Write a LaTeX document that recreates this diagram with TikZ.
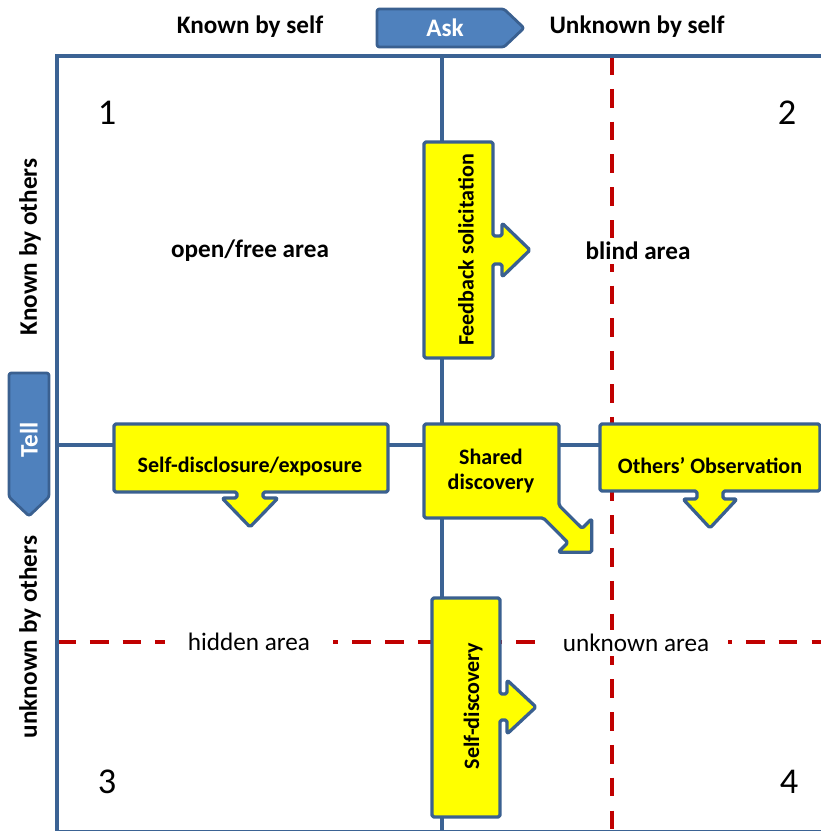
\documentclass[tikz,border=0pt]{standalone}
\usepackage{fontspec}
\setmainfont{Carlito}
\usetikzlibrary{positioning,arrows.meta,calc}
\definecolor{gridblue}{HTML}{3B6394}
\definecolor{tagblue}{HTML}{4F81BD}
\definecolor{tagedge}{HTML}{3A6090}
\definecolor{areared}{HTML}{C00000}
\definecolor{callyellow}{HTML}{FFFF00}

\begin{document}
\begin{tikzpicture}[x=0.03cm,y=-0.03cm,
    gridline/.style={gridblue, line width=3pt},
    redline/.style={areared, line width=3.2pt, dash pattern=on 16pt off 12pt},
    callout/.style={draw=tagedge, fill=callyellow, line width=2.8pt, rounded corners=1.5pt, line join=round},
    bluetag/.style={draw=tagedge, fill=tagblue, line width=2.4pt, rounded corners=2pt, line join=round},
    hdr/.style={font=\bfseries\fontsize{21.5}{23}\selectfont},
    area/.style={fill=white, inner xsep=16pt, font=\fontsize{21.5}{23}\selectfont},
    calltext/.style={font=\bfseries\fontsize{18.8}{22}\selectfont, align=center},
    num/.style={font=\fontsize{31}{33}\selectfont}]
    \useasboundingbox (0,0) rectangle (821,831);
    \fill[white] (0,0) rectangle (821,831);

    % frame and quadrants
    \coordinate (tl) at (57,56);   \coordinate (tr) at (821,56);
    \coordinate (bl) at (57,831);  \coordinate (mt) at (442,56);
    \coordinate (mb) at (442,831); \coordinate (ml) at (57,445);
    \coordinate (mr) at (821,445);
    \coordinate (rt) at (612,56);  \coordinate (rb) at (612,831);
    \coordinate (hl) at (57,642);  \coordinate (hr) at (821,642);
    \draw[redline] (rt) -- (rb);
    \draw[redline] (hl) -- (hr);
    \draw[gridblue, line width=0.6pt] (57,830) -- (821,830);
    \draw[gridline] (tr) -- (tl) -- (bl);
    \draw[gridline] (mt) -- (mb);
    \draw[gridline] (ml) -- (mr);

    % headers
    \node[hdr] (kself) at (250,27) {Known by self};
    \node[hdr] (uself) at (637,27) {Unknown by self};
    \node[hdr, rotate=90] (kothers) at (30,247) {Known by others};
    \node[hdr, rotate=90] (uothers) at (30,637) {unknown by others};
    \draw[bluetag] (377,9) -- (504,9) -- (524,28) -- (504,47) -- (377,47) -- cycle;
    \node[hdr, white] (ask) at (445,28) {Ask};
    \draw[bluetag] (9,373) -- (49,373) -- (49,497) -- (29,516) -- (9,497) -- cycle;
    \node[hdr, white, rotate=90] (tell) at (29,440) {Tell};

    \foreach \n/\x/\y in {1/107/113, 2/787/113, 3/107/782, 4/789/782}
      \node[num] (num\n) at (\x,\y) {\n};

    % area labels
    \node[area, font=\bfseries\fontsize{21.5}{23}\selectfont] (open) at (250,251) {open/free area};
    \node[area, font=\bfseries\fontsize{21.5}{23}\selectfont] (blind) at (638,251) {blind area};
    \node[area, inner xsep=20pt] (hidden) at (249,642) {hidden area};
    \node[area] (unknown) at (636,643) {unknown area};

    % callouts
    \draw[callout] (424,142) -- (493,142) -- (493,236) -- (502,236) -- (502,223) -- (530,250)
      -- (502,277) -- (502,264) -- (493,264) -- (493,358) -- (424,358) -- cycle;
    \node[calltext, rotate=90] (feedback) at (466,250) {Feedback solicitation};
    \draw[callout] (114,424) -- (388,424) -- (388,492) -- (263,492) -- (263,498) -- (278,498)
      -- (250,527) -- (222,498) -- (237,498) -- (237,492) -- (114,492) -- cycle;
    \node[calltext] (disclose) at (250,466) {Self-disclosure/exposure};
    \draw[callout] (424,424) -- (559,424) -- (559,505.4) -- (582.1,528.4) -- (591.8,518.7)
      -- (591.8,552.3) -- (558.2,552.3) -- (567.9,542.6) -- (543.4,518) -- (424,518) -- cycle;
    \node[calltext] (shared) at (491,471) {Shared\\discovery};
    \draw[callout] (600,424) -- (820,424) -- (820,491) -- (723,491) -- (723,499) -- (737,499)
      -- (710,528) -- (683,499) -- (697,499) -- (697,491) -- (600,491) -- cycle;
    \node[calltext] (observe) at (710,466) {Others’ Observation};
    \draw[callout] (432,598) -- (500,598) -- (500,694) -- (507,694) -- (507,680) -- (536,707)
      -- (507,734) -- (507,720) -- (500,720) -- (500,817) -- (432,817) -- cycle;
    \node[calltext, rotate=90] (selfdisc) at (473,706) {Self-discovery};
\end{tikzpicture}
\end{document}
